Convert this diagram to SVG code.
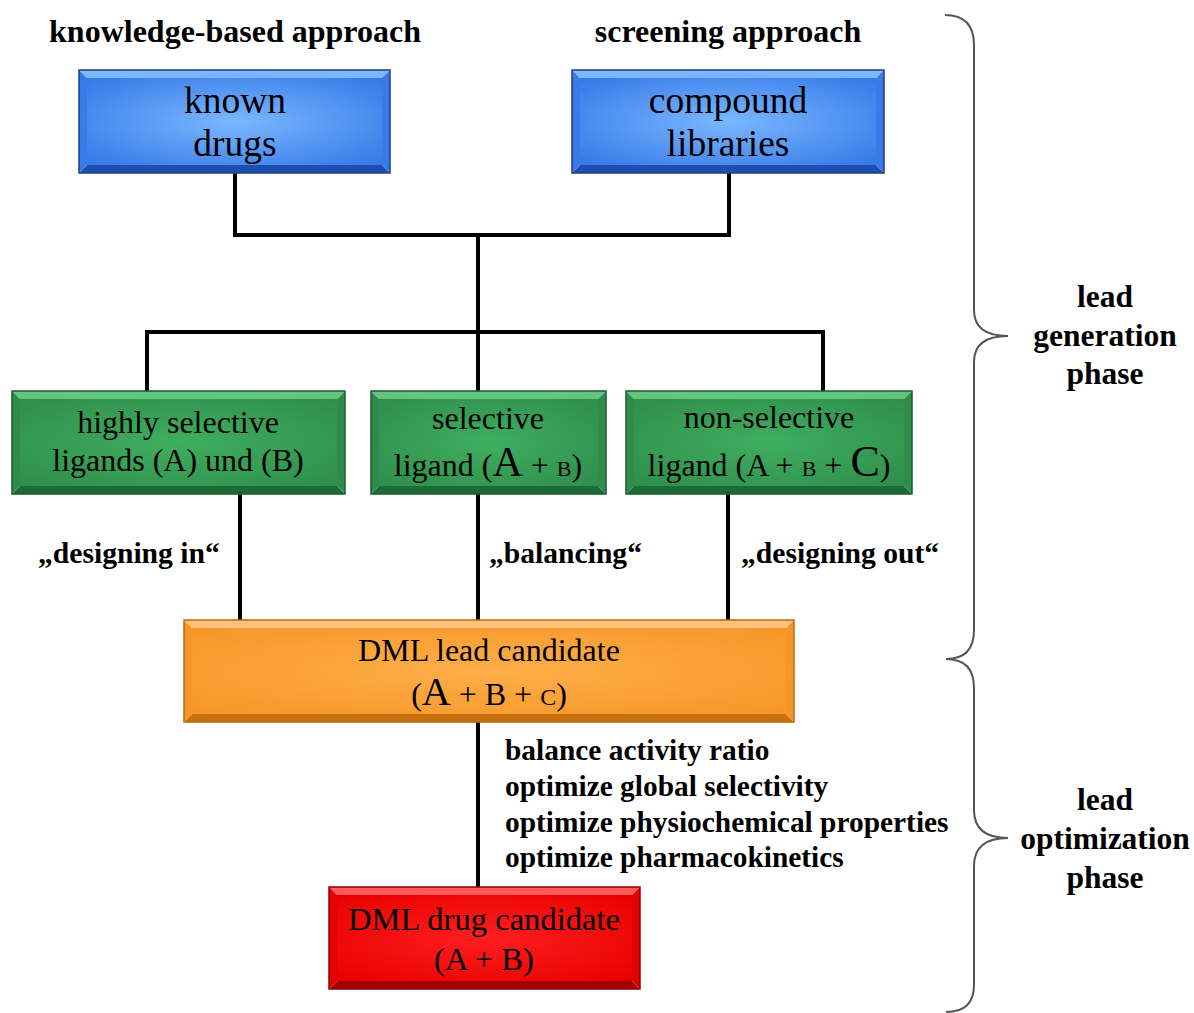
<svg xmlns="http://www.w3.org/2000/svg" width="1194" height="1013" viewBox="0 0 1194 1013">
<style>
  .bt { font-family: "Liberation Serif", "Times New Roman", serif; fill: #000; }
  .bx { font-size: 32px; text-anchor: middle; }
  .bxl { font-size: 37.5px; }
  .bxr { font-size: 32.6px; }
  .bold { font-weight: bold; }
  .conn { stroke: #000; stroke-width: 4; fill: none; stroke-linecap: square; }
  .brace { stroke: #555; stroke-width: 2; fill: none; }
  .blue .t { fill: #7db7ff; } .blue .b { fill: #1d4fb0; } .blue .s { fill: #3a7ae6; } .blue .o { fill: none; stroke: #1c3f86; stroke-width: 1.5; }
  .green .t { fill: #62c47f; } .green .b { fill: #1c6a34; } .green .s { fill: #2f8b4a; } .green .o { fill: none; stroke: #1a5a2c; stroke-width: 1.5; }
  .orange .t { fill: #ffc27a; } .orange .b { fill: #c9700f; } .orange .s { fill: #f49526; } .orange .o { fill: none; stroke: #b86a10; stroke-width: 1.5; }
  .red .t { fill: #ff5a5a; } .red .b { fill: #a30000; } .red .s { fill: #e40000; } .red .o { fill: none; stroke: #900000; stroke-width: 1.5; }
</style>
<defs>
  <radialGradient id="gBlue" cx="0.5" cy="0.5" r="0.7"><stop offset="0" stop-color="#7ab8ff"/><stop offset="1" stop-color="#3577e8"/></radialGradient>
  <radialGradient id="gGreen" cx="0.5" cy="0.5" r="0.7"><stop offset="0" stop-color="#3fae5f"/><stop offset="1" stop-color="#2f8e4b"/></radialGradient>
  <radialGradient id="gOrange" cx="0.5" cy="0.5" r="0.7"><stop offset="0" stop-color="#ffae4a"/><stop offset="1" stop-color="#f69627"/></radialGradient>
  <radialGradient id="gRed" cx="0.5" cy="0.5" r="0.7"><stop offset="0" stop-color="#ff1e1e"/><stop offset="1" stop-color="#e80000"/></radialGradient>
</defs>
<rect width="1194" height="1013" fill="#fff"/>

<g id="connectors">
  <path class="conn" d="M235,173 V235 H729 V173"/>
  <path class="conn" d="M478,235 V391"/>
  <path class="conn" d="M147,391 V332 H823 V391"/>
  <path class="conn" d="M240,494 V620"/>
  <path class="conn" d="M478,494 V620"/>
  <path class="conn" d="M728,494 V620"/>
  <path class="conn" d="M478,722 V887"/>
</g>

<g id="headers" class="bt bold" font-size="32" text-anchor="middle">
  <text x="235" y="42">knowledge-based approach</text>
  <text x="728" y="42">screening approach</text>
</g>

<g id="known-drugs" class="blue">
  <polygon class="t" points="79,70 390,70 382,78 87,78"/>
  <polygon class="b" points="79,173 390,173 382,165 87,165"/>
  <polygon class="s" points="79,70 87,78 87,165 79,173"/>
  <polygon class="s" points="390,70 382,78 382,165 390,173"/>
  <rect x="87" y="78" width="295" height="87" fill="url(#gBlue)"/>
  <rect class="o" x="79" y="70" width="311" height="103"/>
  <text class="bt bx bxl" x="235" y="113">known</text>
  <text class="bt bx bxl" x="235" y="156">drugs</text>
</g>

<g id="compound-libraries" class="blue">
  <polygon class="t" points="572,70 884,70 876,78 580,78"/>
  <polygon class="b" points="572,173 884,173 876,165 580,165"/>
  <polygon class="s" points="572,70 580,78 580,165 572,173"/>
  <polygon class="s" points="884,70 876,78 876,165 884,173"/>
  <rect x="580" y="78" width="296" height="87" fill="url(#gBlue)"/>
  <rect class="o" x="572" y="70" width="312" height="103"/>
  <text class="bt bx bxl" x="728" y="113">compound</text>
  <text class="bt bx bxl" x="728" y="156">libraries</text>
</g>

<g id="highly-selective" class="green">
  <polygon class="t" points="12,391 345,391 337,399 20,399"/>
  <polygon class="b" points="12,494 345,494 337,486 20,486"/>
  <polygon class="s" points="12,391 20,399 20,486 12,494"/>
  <polygon class="s" points="345,391 337,399 337,486 345,494"/>
  <rect x="20" y="399" width="317" height="87" fill="url(#gGreen)"/>
  <rect class="o" x="12" y="391" width="333" height="103"/>
  <text class="bt bx" x="178" y="433">highly selective</text>
  <text class="bt bx" x="178" y="471">ligands (A) und (B)</text>
</g>

<g id="selective" class="green">
  <polygon class="t" points="371,391 606,391 598,399 379,399"/>
  <polygon class="b" points="371,494 606,494 598,486 379,486"/>
  <polygon class="s" points="371,391 379,399 379,486 371,494"/>
  <polygon class="s" points="606,391 598,399 598,486 606,494"/>
  <rect x="379" y="399" width="219" height="87" fill="url(#gGreen)"/>
  <rect class="o" x="371" y="391" width="235" height="103"/>
  <text class="bt bx" x="488" y="429">selective</text>
  <text class="bt bx" x="488" y="476">ligand (<tspan font-size="42">A</tspan> + <tspan font-size="22">B</tspan>)</text>
</g>

<g id="non-selective" class="green">
  <polygon class="t" points="626,391 912,391 904,399 634,399"/>
  <polygon class="b" points="626,494 912,494 904,486 634,486"/>
  <polygon class="s" points="626,391 634,399 634,486 626,494"/>
  <polygon class="s" points="912,391 904,399 904,486 912,494"/>
  <rect x="634" y="399" width="270" height="87" fill="url(#gGreen)"/>
  <rect class="o" x="626" y="391" width="286" height="103"/>
  <text class="bt bx" x="769" y="428">non-selective</text>
  <text class="bt bx" x="769" y="476">ligand (A + <tspan font-size="22">B</tspan> + <tspan font-size="44">C</tspan>)</text>
</g>

<g id="labels" class="bt bold" font-size="29.6">
  <text x="38" y="563">„designing in“</text>
  <text x="489" y="563">„balancing“</text>
  <text x="741" y="563">„designing out“</text>
</g>

<g id="lead-candidate" class="orange">
  <polygon class="t" points="184,620 794,620 786,628 192,628"/>
  <polygon class="b" points="184,722 794,722 786,714 192,714"/>
  <polygon class="s" points="184,620 192,628 192,714 184,722"/>
  <polygon class="s" points="794,620 786,628 786,714 794,722"/>
  <rect x="192" y="628" width="594" height="86" fill="url(#gOrange)"/>
  <rect class="o" x="184" y="620" width="610" height="102"/>
  <text class="bt bx" x="489" y="661">DML lead candidate</text>
  <text class="bt bx" x="489" y="705">(<tspan font-size="40">A</tspan> + B + <tspan font-size="24">C</tspan>)</text>
</g>

<g id="optimization-steps" class="bt bold" font-size="29.4">
  <text x="505" y="760">balance activity ratio</text>
  <text x="505" y="796">optimize global selectivity</text>
  <text x="505" y="832">optimize physiochemical properties</text>
  <text x="505" y="867">optimize pharmacokinetics</text>
</g>

<g id="drug-candidate" class="red">
  <polygon class="t" points="329,887 640,887 632,895 337,895"/>
  <polygon class="b" points="329,989 640,989 632,981 337,981"/>
  <polygon class="s" points="329,887 337,895 337,981 329,989"/>
  <polygon class="s" points="640,887 632,895 632,981 640,989"/>
  <rect x="337" y="895" width="295" height="86" fill="url(#gRed)"/>
  <rect class="o" x="329" y="887" width="311" height="102"/>
  <text class="bt bx bxr" x="484" y="930">DML drug candidate</text>
  <text class="bt bx bxr" x="484" y="970">(A + B)</text>
</g>

<g id="phase-braces">
  <path class="brace" d="M945,15 Q974,15 974,45 L974,310 Q974,336 1008,336 Q974,336 974,362 L974,630 Q974,659 946,659 Q974,659 974,688 L974,810 Q974,838 1008,838 Q974,838 974,866 L974,985 Q974,1012 946,1012"/>
</g>

<g id="lead-generation" class="bt bold" font-size="31.5" text-anchor="middle">
  <text x="1105" y="307">lead</text>
  <text x="1105" y="346">generation</text>
  <text x="1105" y="384">phase</text>
</g>

<g id="lead-optimization" class="bt bold" font-size="31.5" text-anchor="middle">
  <text x="1105" y="810">lead</text>
  <text x="1105" y="849">optimization</text>
  <text x="1105" y="888">phase</text>
</g>
</svg>
